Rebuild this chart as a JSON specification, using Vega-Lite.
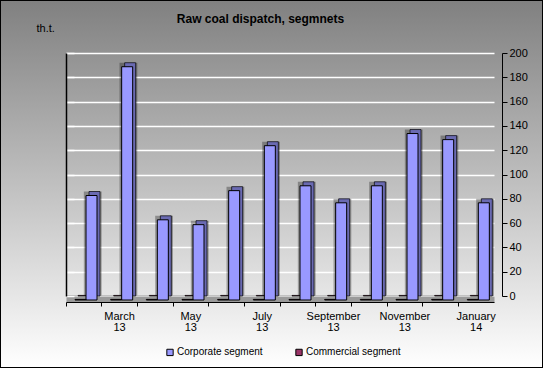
{
  "$schema": "https://vega.github.io/schema/vega-lite/v6.json",
  "width": 543,
  "height": 368,
  "autosize": {"type": "none"},
  "padding": 0,
  "background": "#c0c0c0",
  "config": {
    "font": "Liberation Sans",
    "view": {
      "fill": {"gradient": "linear", "x1": 0, "y1": 0, "x2": 0, "y2": 1, "stops": [{"offset": 0, "color": "#808080"}, {"offset": 1, "color": "#ffffff"}]},
      "stroke": "#000000",
      "strokeWidth": 2
    }
  },
  "title": {
    "text": "Raw coal dispatch, segmnets",
    "font": "Liberation Sans",
    "fontSize": 12,
    "fontWeight": "bold",
    "color": "#000000",
    "anchor": "middle",
    "dx": -11,
    "dy": 30
  },
  "data": {
    "values": [
      {"month": "February 13", "segment": "Corporate segment", "value": 86},
      {"month": "March 13", "segment": "Corporate segment", "value": 192},
      {"month": "April 13", "segment": "Corporate segment", "value": 66},
      {"month": "May 13", "segment": "Corporate segment", "value": 62},
      {"month": "June 13", "segment": "Corporate segment", "value": 90},
      {"month": "July 13", "segment": "Corporate segment", "value": 127},
      {"month": "August 13", "segment": "Corporate segment", "value": 94},
      {"month": "September 13", "segment": "Corporate segment", "value": 80},
      {"month": "October 13", "segment": "Corporate segment", "value": 94},
      {"month": "November 13", "segment": "Corporate segment", "value": 137},
      {"month": "December 13", "segment": "Corporate segment", "value": 132},
      {"month": "January 14", "segment": "Corporate segment", "value": 80},
      {"month": "February 13", "segment": "Commercial segment", "value": 0.5},
      {"month": "March 13", "segment": "Commercial segment", "value": 0.5},
      {"month": "April 13", "segment": "Commercial segment", "value": 0.5},
      {"month": "May 13", "segment": "Commercial segment", "value": 0.5},
      {"month": "June 13", "segment": "Commercial segment", "value": 0.5},
      {"month": "July 13", "segment": "Commercial segment", "value": 0.5},
      {"month": "August 13", "segment": "Commercial segment", "value": 0.5},
      {"month": "September 13", "segment": "Commercial segment", "value": 0.5},
      {"month": "October 13", "segment": "Commercial segment", "value": 0.5},
      {"month": "November 13", "segment": "Commercial segment", "value": 0.5},
      {"month": "December 13", "segment": "Commercial segment", "value": 0.5},
      {"month": "January 14", "segment": "Commercial segment", "value": 0.5}
    ]
  },
  "layer": [
    {
      "mark": {"type": "bar", "stroke": "#000000", "strokeWidth": 0.7},
      "encoding": {
        "x": {
          "field": "month", "type": "nominal", "sort": null,
          "scale": {"type": "band", "range": [66, 494], "paddingInner": 0, "paddingOuter": 0},
          "axis": {"orient": "bottom", "offset": -69, "domainColor": "#9a9a9a", "domainWidth": 6, "ticks": false, "labels": false, "title": null, "grid": false}
        },
        "xOffset": {
          "field": "segment", "type": "nominal",
          "scale": {"domain": ["Commercial segment", "Corporate segment"], "range": [12, 34], "paddingInner": 0, "paddingOuter": 0}
        },
        "y": {
          "field": "value", "type": "quantitative",
          "scale": {"domain": [0, 200], "range": [296, 53], "nice": false},
          "axis": {
            "orient": "right", "offset": -41, "values": [0, 20, 40, 60, 80, 100, 120, 140, 160, 180, 200],
            "grid": false, "domainColor": "#000000", "tickColor": "#000000", "tickSize": 5,
            "labelFontSize": 11, "labelColor": "#000000", "labelFont": "Liberation Sans", "labelPadding": 2, "title": null
          }
        },
        "color": {
          "field": "segment", "type": "nominal",
          "scale": {"domain": ["Corporate segment", "Commercial segment"], "range": ["#9999ff", "#993366"]},
          "legend": {
            "orient": "none", "legendX": 165, "legendY": 347, "direction": "horizontal", "title": null,
            "symbolType": "square", "symbolSize": 40, "symbolStrokeColor": "#333333", "symbolStrokeWidth": 1,
            "labelFontSize": 10, "labelColor": "#000000", "labelFont": "Liberation Sans", "labelOffset": 2, "columnPadding": 30
          }
        }
      }
    },
    {
      "mark": {"type": "bar", "fill": "#000000", "fillOpacity": 0.3},
      "encoding": {
        "x": {"field": "month", "type": "nominal", "sort": null, "axis": null},
        "xOffset": {"field": "segment", "type": "nominal"},
        "y": {"field": "value", "type": "quantitative", "axis": null}
      }
    },
    {
      "mark": {"type": "bar", "stroke": "#000000", "strokeWidth": 1, "yOffset": 4},
      "encoding": {
        "x": {
          "field": "month", "type": "nominal", "sort": null,
          "axis": {
            "orient": "bottom", "offset": -66, "bandPosition": 0, "domainColor": "#000000", "domainWidth": 1,
            "tickColor": "#000000", "tickSize": 4, "labelAngle": 0, "labelFontSize": 11, "labelColor": "#000000",
            "labelFont": "Liberation Sans", "labelPadding": 4, "labelLineHeight": 11, "title": null, "grid": false,
            "labelExpr": "indexof(['March 13','May 13','July 13','September 13','November 13','January 14'], datum.value) >= 0 ? split(datum.value, ' ') : ''"
          }
        },
        "xOffset": {
          "field": "segment", "type": "nominal",
          "scale": {"domain": ["Commercial segment", "Corporate segment"], "range": [9, 31], "paddingInner": 0, "paddingOuter": 0}
        },
        "y": {
          "field": "value", "type": "quantitative",
          "axis": {
            "orient": "left", "offset": -66, "values": [0, 20, 40, 60, 80, 100, 120, 140, 160, 180, 200],
            "grid": true, "gridColor": "#ffffff", "gridWidth": 1.5, "gridOpacity": 1,
            "domainColor": "#000000", "domainWidth": 1.5, "tickColor": "#ffffff", "tickSize": -8, "tickWidth": 1.5,
            "labels": false,
            "title": "th.t.", "titleAngle": 0, "titleX": -30, "titleY": 31, "titleAlign": "left", "titleBaseline": "alphabetic",
            "titleFontSize": 11, "titleFontWeight": "normal", "titleColor": "#000000", "titleFont": "Liberation Sans"
          }
        },
        "color": {"field": "segment", "type": "nominal"}
      }
    }
  ],
  "resolve": {"axis": {"x": "independent", "y": "independent"}, "scale": {"xOffset": "independent"}}
}
